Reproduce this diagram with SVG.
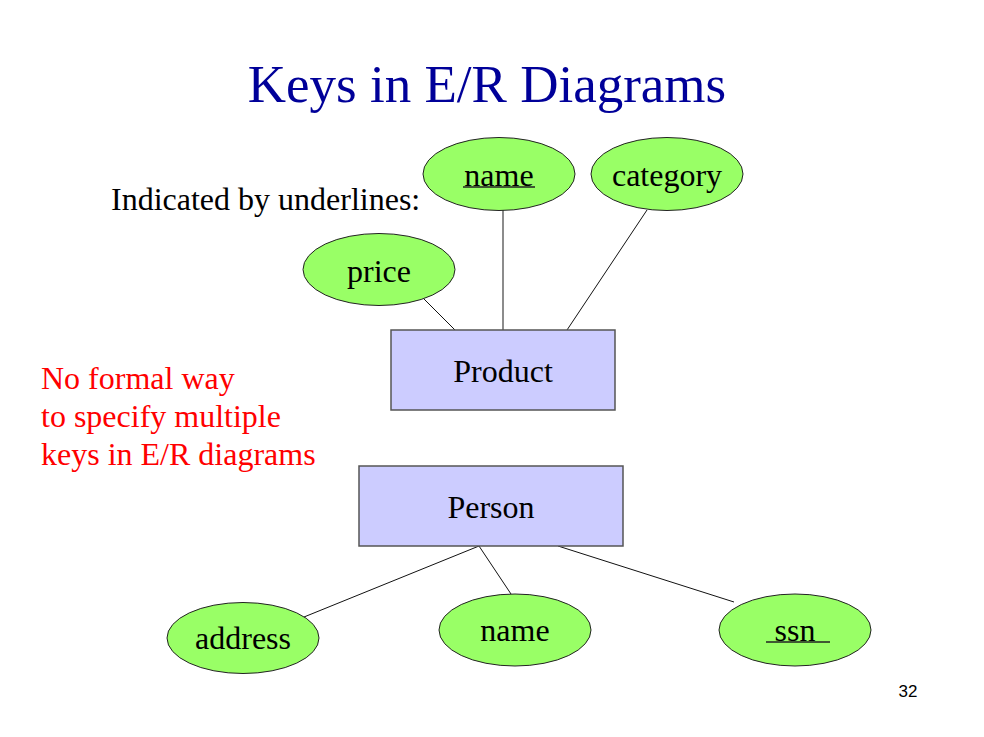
<svg xmlns="http://www.w3.org/2000/svg" width="984" height="737" viewBox="0 0 984 737">
<style>
.t{font-family:"Liberation Serif","Times New Roman",serif;font-size:32px;fill:#000}
.ent{fill:#ccccff;stroke:#555;stroke-width:1.5}
.att{fill:#99ff66;stroke:#222;stroke-width:1}
.ln{stroke:#111;stroke-width:1;fill:none}
.ul{stroke:#222;stroke-width:1.5}
.red{font-family:"Liberation Serif","Times New Roman",serif;font-size:32px;fill:#ff0000}
</style>
<rect width="984" height="737" fill="#fff"/>
<text x="487" y="102" text-anchor="middle" style="font-family:'Liberation Serif','Times New Roman',serif;font-size:53px;fill:#000099">Keys in E/R Diagrams</text>
<text class="t" x="111" y="210">Indicated by underlines:</text>
<text class="red" x="41" y="389">No formal way</text>
<text class="red" x="41" y="427">to specify multiple</text>
<text class="red" x="41" y="465">keys in E/R diagrams</text>
<text x="908" y="697" text-anchor="middle" style="font-family:'Liberation Sans',Arial,sans-serif;font-size:17px;fill:#000">32</text>
<g id="connectors">
<line class="ln" x1="424" y1="299" x2="455" y2="330"/>
<line x1="503" y1="210" x2="503" y2="330" stroke="#666" stroke-width="1.5"/>
<line class="ln" x1="647" y1="210" x2="567" y2="330"/>
<line class="ln" x1="479" y1="546" x2="304" y2="617"/>
<line class="ln" x1="479" y1="546" x2="511" y2="594"/>
<line class="ln" x1="558" y1="546" x2="734" y2="602"/>
</g>
<g id="product">
<rect class="ent" x="391" y="330" width="224" height="80"/>
<text class="t" x="503" y="382" text-anchor="middle">Product</text>
</g>
<g id="product-name">
<ellipse class="att" cx="499" cy="174" rx="76" ry="36.5"/>
<text class="t" x="499" y="186" text-anchor="middle">name</text>
<line class="ul" x1="463" y1="187" x2="535" y2="187"/>
</g>
<g id="product-category">
<ellipse class="att" cx="667" cy="174" rx="76" ry="36.5"/>
<text class="t" x="667" y="186" text-anchor="middle">category</text>
</g>
<g id="product-price">
<ellipse class="att" cx="379" cy="269.5" rx="76" ry="36"/>
<text class="t" x="379" y="282" text-anchor="middle">price</text>
</g>
<g id="person">
<rect class="ent" x="359" y="466" width="264" height="80"/>
<text class="t" x="491" y="518" text-anchor="middle">Person</text>
</g>
<g id="person-address">
<ellipse class="att" cx="243" cy="638" rx="76" ry="35.5"/>
<text class="t" x="243" y="649" text-anchor="middle">address</text>
</g>
<g id="person-name">
<ellipse class="att" cx="515" cy="630" rx="76" ry="36"/>
<text class="t" x="515" y="641" text-anchor="middle">name</text>
</g>
<g id="person-ssn">
<ellipse class="att" cx="795" cy="630" rx="76" ry="36"/>
<text class="t" x="795" y="641" text-anchor="middle">ssn</text>
<line class="ul" x1="766" y1="642" x2="830" y2="642"/>
</g>
</svg>
